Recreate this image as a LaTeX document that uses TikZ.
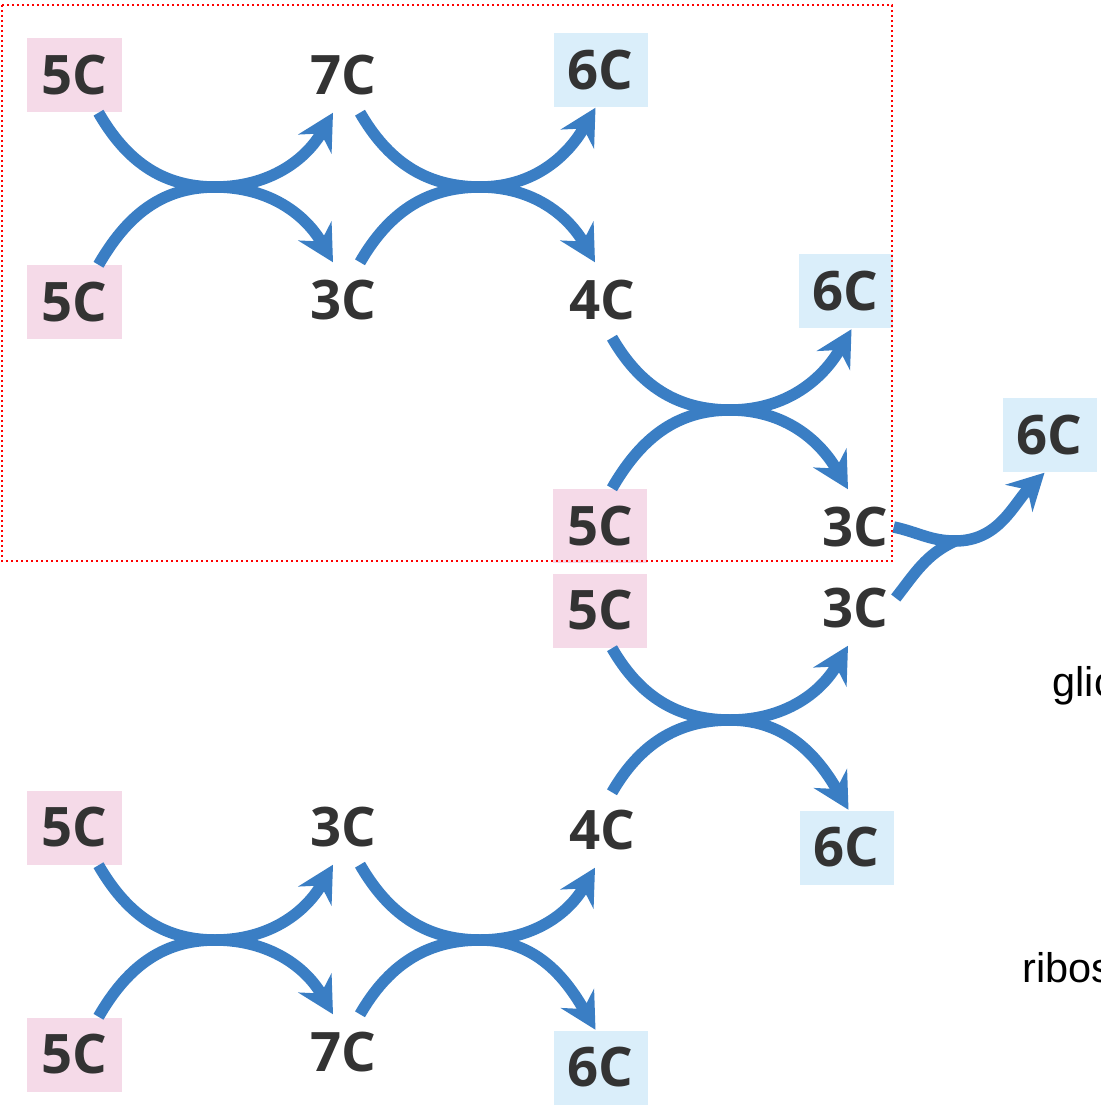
\documentclass[tikz,border=0pt]{standalone}
\usepackage{fontspec}
\setmainfont{Liberation Sans}
\newfontfamily\carbfont{Open Sans}
\usetikzlibrary{arrows.meta}

\definecolor{pentose}{RGB}{245,218,232}
\definecolor{hexose}{RGB}{218,238,250}
\definecolor{flowblue}{RGB}{58,126,196}
\definecolor{ink}{RGB}{51,51,51}

\tikzset{
  sugar/.style={minimum width=0.94cm,minimum height=0.74cm,inner sep=0pt,
    text=ink,font=\carbfont\bfseries\fontsize{15.5}{16}\selectfont},
  pent/.style={sugar,fill=pentose},
  hex/.style={sugar,fill=hexose},
  flowline/.style={flowblue,line width=1.15mm},
  flow/.style={flowline,-{Stealth[length=3.6mm,width=3.8mm,inset=1.2mm]}},
}

\begin{document}
\begin{tikzpicture}
  \useasboundingbox (0,0) rectangle (11.01,-11.09);

  % sugars
  \node[pent] (c5a) at (0.745,-0.75) {5C};
  \node[pent] (c5b) at (0.745,-3.025) {5C};
  \node[sugar] (c7a) at (3.43,-0.75) {7C};
  \node[sugar] (c3a) at (3.43,-3.0) {3C};
  \node[hex] (c6a) at (6.005,-0.70) {6C};
  \node[sugar] (c4a) at (6.02,-3.0) {4C};
  \node[hex] (c6b) at (8.455,-2.915) {6C};
  \node[pent] (c5c) at (6.0,-5.26) {5C};
  \node[sugar] (c3b) at (8.55,-5.27) {3C};
  \node[hex] (c6c) at (10.495,-4.35) {6C};
  \node[pent] (c5d) at (6.0,-6.105) {5C};
  \node[sugar] (c3c) at (8.55,-6.08) {3C};
  \node[sugar] (c4b) at (6.02,-8.30) {4C};
  \node[hex] (c6d) at (8.465,-8.475) {6C};
  \node[pent] (c5e) at (0.745,-8.275) {5C};
  \node[sugar] (c3d) at (3.43,-8.27) {3C};
  \node[pent] (c5f) at (0.745,-10.545) {5C};
  \node[sugar] (c7b) at (3.43,-10.52) {7C};
  \node[hex] (c6e) at (6.005,-10.675) {6C};

  \node[anchor=base west,inner sep=0pt,font=\fontsize{11.8}{12}\selectfont]
    (gl) at (10.52,-6.96) {glic};
  \node[anchor=base west,inner sep=0pt,font=\fontsize{11.8}{12}\selectfont]
    (rb) at (10.22,-9.82) {ribos};

  % crossing points
  \coordinate (k1) at (2.15,-1.87);
  \coordinate (k2) at (4.80,-1.87);
  \coordinate (k3) at (7.30,-4.10);
  \coordinate (k4) at (9.55,-5.41);
  \coordinate (k5) at (7.30,-7.20);
  \coordinate (k6) at (2.15,-9.40);
  \coordinate (k7) at (4.80,-9.40);

  % upper branch
  \draw[flow] ([xshift=2.4mm]c5a.south) to[out=-60,in=180] (k1) to[out=0,in=-120] ([xshift=-1mm]c7a.south);
  \draw[flow] ([xshift=2.4mm]c5b.north) to[out=60,in=180] (k1) to[out=0,in=120] ([xshift=-1mm]c3a.north);
  \draw[flow] ([xshift=1.7mm]c7a.south) to[out=-60,in=180] (k2) to[out=0,in=120] ([xshift=-0.7mm]c4a.north);
  \draw[flow] ([xshift=1.7mm]c3a.north) to[out=60,in=180] (k2) to[out=0,in=-120] ([xshift=-0.5mm]c6a.south);
  \draw[flow] ([xshift=1mm]c4a.south) to[out=-60,in=180] (k3) to[out=0,in=-120] ([xshift=0.6mm]c6b.south);
  \draw[flow] ([xshift=1.2mm]c5c.north) to[out=60,in=180] (k3) to[out=0,in=120] ([xshift=-0.7mm]c3b.north);

  % the two trioses join
  \draw[flow] ([xshift=-0.9mm]c3b.east) to[out=-12,in=180] (k4) to[out=0,in=-135] ([xshift=-0.5mm]c6c.south);
  \draw[flowline] ([xshift=-0.7mm,yshift=1mm]c3c.east) to[out=52,in=205] (k4);

  % lower branch
  \draw[flow] ([xshift=1.2mm]c5d.south) to[out=-60,in=180] (k5) to[out=0,in=-120] ([xshift=-0.7mm]c3c.south);
  \draw[flow] ([xshift=1mm]c4b.north) to[out=60,in=180] (k5) to[out=0,in=120] ([xshift=0.2mm]c6d.north);
  \draw[flow] ([xshift=2.4mm]c5e.south) to[out=-60,in=180] (k6) to[out=0,in=-120] ([xshift=-1mm]c3d.south);
  \draw[flow] ([xshift=2.4mm]c5f.north) to[out=60,in=180] (k6) to[out=0,in=120] ([xshift=-1mm]c7b.north);
  \draw[flow] ([xshift=1.7mm]c3d.south) to[out=-60,in=180] (k7) to[out=0,in=-120] ([xshift=-0.7mm]c4b.south);
  \draw[flow] ([xshift=1.7mm]c7b.north) to[out=60,in=180] (k7) to[out=0,in=120] ([xshift=-0.5mm]c6e.north);

  % frame round the upper branch
  \draw[red,line width=0.25mm,dash pattern=on 0.25mm off 0.25mm]
    (0.02,-0.05) rectangle (8.92,-5.61);
\end{tikzpicture}
\end{document}
